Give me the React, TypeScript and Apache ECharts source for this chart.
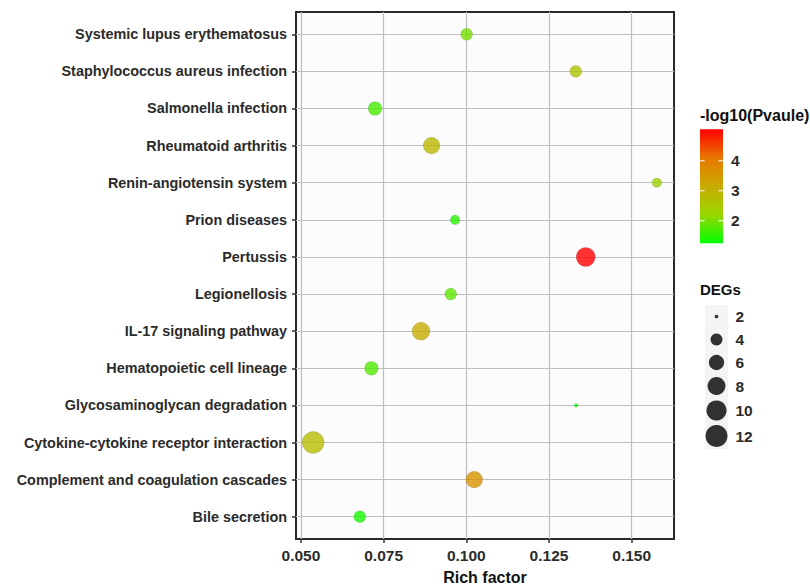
import React, { useEffect, useRef } from "react";
import * as echarts from "echarts";

// ---- data (bottom to top, as in the reference) ----
const pathways = [
  "Bile secretion",
  "Complement and coagulation cascades",
  "Cytokine-cytokine receptor interaction",
  "Glycosaminoglycan degradation",
  "Hematopoietic cell lineage",
  "IL-17 signaling pathway",
  "Legionellosis",
  "Pertussis",
  "Prion diseases",
  "Renin-angiotensin system",
  "Rheumatoid arthritis",
  "Salmonella infection",
  "Staphylococcus aureus infection",
  "Systemic lupus erythematosus",
];
const richFactor = [0.0678, 0.1024, 0.0537, 0.1332, 0.0713, 0.0863, 0.0953, 0.1361, 0.0966, 0.1576, 0.0895, 0.0724, 0.1331, 0.1001];
const degs = [4, 7, 12, 2, 5, 8, 4, 9, 3, 3, 7, 5, 4, 4];
const negLog10P = [1.4, 3.6, 2.8, 1.25, 1.75, 3.1, 1.85, 5.05, 1.5, 2.3, 2.9, 1.7, 2.6, 2.0];

const xTicks = [0.05, 0.075, 0.1, 0.125, 0.15];
const colorTicks = [2, 3, 4];
const sizeBreaks = [2, 4, 6, 8, 10, 12];
const colorMin = 1.25;
const colorMax = 5.05;
const colorStops = ["#00FF00", "#98D700", "#C8AB00", "#E87700", "#FF0000"];

// ---- style ----
const FONT = '"Liberation Sans", Arial, Helvetica, sans-serif';
const TEXT = "#2b2b2b";
const GRIDLINE = "#BEBEBE";
const PX_PER_SIZE = 3.67;

const degMin = Math.min(...degs);
const degMax = Math.max(...degs);
const sizeOf = (v: number) =>
  PX_PER_SIZE * (1 + 5 * Math.sqrt(Math.max(0, (v - degMin) / (degMax - degMin))));

// x extent with ggplot-like 5% expansion
const xLo = Math.min(...richFactor);
const xHi = Math.max(...richFactor);
const xPad = (xHi - xLo) * 0.05;

function buildGraphics() {
  const g: any[] = [];
  // colour legend
  g.push({
    type: "text",
    x: 700,
    y: 115,
    style: { text: "-log10(Pvaule)", fill: "#111", font: `bold 16px ${FONT}`, verticalAlign: "middle" },
  });
  const barX = 700, barY = 129.3, barW = 23, barH = 114;
  g.push({
    type: "rect",
    shape: { x: barX, y: barY, width: barW, height: barH },
    style: {
      fill: new echarts.graphic.LinearGradient(
        0, 1, 0, 0,
        colorStops.map((c, i) => ({ offset: i / (colorStops.length - 1), color: c }))
      ),
    },
  });
  colorTicks.forEach((t) => {
    const yy = barY + barH - ((t - colorMin) / (colorMax - colorMin)) * barH;
    g.push({ type: "line", shape: { x1: barX, y1: yy, x2: barX + 4.6, y2: yy }, style: { stroke: "#fff", lineWidth: 1 } });
    g.push({ type: "line", shape: { x1: barX + barW - 4.6, y1: yy, x2: barX + barW, y2: yy }, style: { stroke: "#fff", lineWidth: 1 } });
    g.push({
      type: "text",
      x: 731,
      y: yy,
      style: { text: String(t), fill: TEXT, font: `bold 15.5px ${FONT}`, verticalAlign: "middle" },
    });
  });
  // size legend
  g.push({
    type: "text",
    x: 700,
    y: 289.5,
    style: { text: "DEGs", fill: "#111", font: `bold 15px ${FONT}`, verticalAlign: "middle" },
  });
  const keyHeights = [23, 23, 23, 24, 25, 26];
  let top = 305;
  sizeBreaks.forEach((b, i) => {
    const h = keyHeights[i];
    const cy = top + h / 2;
    g.push({ type: "rect", shape: { x: 705, y: top, width: 23, height: h }, style: { fill: "#F4F4F4" } });
    g.push({ type: "circle", shape: { cx: 716.5, cy, r: sizeOf(b) / 2 }, style: { fill: "rgba(0,0,0,0.8)" } });
    g.push({
      type: "text",
      x: 735.5,
      y: cy,
      style: { text: String(b), fill: TEXT, font: `bold 15.5px ${FONT}`, verticalAlign: "middle" },
    });
    top += h;
  });
  return g;
}

export default function App() {
  const ref = useRef<HTMLDivElement>(null);
  useEffect(() => {
    if (!ref.current) return;
    const chart = echarts.init(ref.current, undefined, { renderer: "svg" });
    const idx = pathways.map((_, i) => i);
    chart.setOption({
      animation: false,
      backgroundColor: "#ffffff",
      textStyle: { fontFamily: FONT },
      grid: {
        left: 296,
        right: 136,
        top: 12,
        bottom: 48,
        outerBoundsMode: "none",
        containLabel: false,
        show: true,
        backgroundColor: "#FCFCFC",
        borderColor: "#2a2a2a",
        borderWidth: 2,
      },
      xAxis: {
        type: "value",
        min: xLo - xPad,
        max: xHi + xPad,
        name: "Rich factor",
        nameLocation: "middle",
        nameGap: 30,
        nameTextStyle: { fontFamily: FONT, fontWeight: "bold", fontSize: 16, color: "#111" },
        axisLine: { show: false, onZero: false },
        axisTick: { show: true, length: 4, lineStyle: { color: "#333", width: 1.5 }, customValues: xTicks },
        axisLabel: {
          customValues: xTicks,
          formatter: (v: number) => v.toFixed(3),
          margin: 8,
          fontFamily: FONT,
          fontWeight: "bold",
          fontSize: 15.5,
          color: TEXT,
        },
        splitLine: { show: true, lineStyle: { color: GRIDLINE, width: 1.2 } },
      },
      yAxis: {
        type: "value",
        min: -0.6,
        max: pathways.length - 1 + 0.6,
        axisLine: { show: false, onZero: false },
        axisTick: { show: true, length: 4, lineStyle: { color: "#333", width: 1.5 }, customValues: idx },
        axisLabel: {
          customValues: idx,
          formatter: (v: number) => pathways[Math.round(v)] ?? "",
          margin: 9,
          fontFamily: FONT,
          fontWeight: "bold",
          fontSize: 14.4,
          color: TEXT,
        },
        splitLine: { show: true, lineStyle: { color: GRIDLINE, width: 1.2 } },
      },
      visualMap: {
        type: "continuous",
        show: false,
        seriesIndex: 0,
        dimension: 3,
        min: colorMin,
        max: colorMax,
        inRange: { color: colorStops },
      },
      series: [
        {
          type: "scatter",
          data: pathways.map((p, i) => [richFactor[i], i, degs[i], negLog10P[i], p]),
          symbolSize: (val: number[]) => sizeOf(val[2]),
          itemStyle: { opacity: 0.8, borderColor: "rgba(0,0,0,0.15)", borderWidth: 0.8 },
        },
      ],
      graphic: buildGraphics(),
    });
    return () => chart.dispose();
  }, []);
  return (
    <div
      ref={ref}
      style={{ position: "fixed", left: 0, top: 0, width: 810, height: 587, background: "#fff" }}
    />
  );
}
